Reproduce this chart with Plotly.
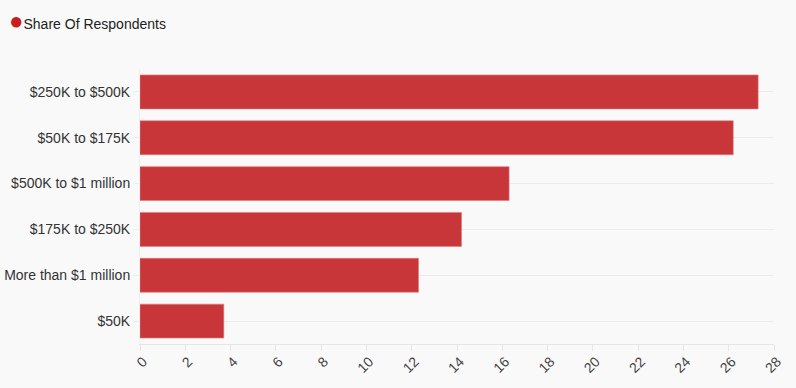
import plotly.graph_objects as go

categories = ["$250K to $500K", "$50K to $175K", "$500K to $1 million",
              "$175K to $250K", "More than $1 million", "$50K"]
values = [27.3, 26.2, 16.3, 14.2, 12.3, 3.7]
series_name = "Share Of Respondents"
x_ticks = list(range(0, 30, 2))

bar_color = "#c8363a"
fig = go.Figure()
fig.add_trace(go.Bar(
    y=categories, x=values, orientation="h", name=series_name,
    marker=dict(color=bar_color, line=dict(color="#e07a7c", width=0.6)),
    width=0.74, showlegend=False,
))

fig.update_layout(
    width=796, height=388,
    margin=dict(l=140, r=22, t=69, b=44, autoexpand=False),
    paper_bgcolor="#f9f9f9", plot_bgcolor="#f9f9f9",
    font=dict(family="Liberation Sans, Arial, sans-serif", size=14, color="#333333"),
    xaxis=dict(range=[0, 28], tickvals=x_ticks, tickangle=-45, showgrid=False,
               zeroline=False, showline=True, linecolor="#e6e6e6", linewidth=1,
               ticks="outside", ticklen=6, tickcolor="#e6e6e6", automargin=False,
               ticklabelstandoff=-3, ticklabelshift=3,
               tickfont=dict(size=14, color="#444444")),
    yaxis=dict(autorange="reversed", showgrid=True, gridcolor="#ececec", gridwidth=1,
               showline=True, linecolor="#eeeeee", ticks="outside", ticklen=6,
               tickcolor="#eeeeee", ticklabelstandoff=0, automargin=False,
               tickfont=dict(size=14, color="#333333")),
    annotations=[dict(
        text="<span style='color:#c81e1e;font-size:24px'>●</span>" + series_name,
        xref="paper", yref="paper", x=-140/634, y=1 + (69-24)/275,
        xanchor="left", yanchor="middle", showarrow=False, xshift=7, yshift=4,
        font=dict(size=14, color="#222222"),
    )],
)

fig.write_html(
    "out.html",
    config={"displayModeBar": False},
    post_script="document.body.style.margin='0';document.body.style.background='#f9f9f9';",
)
